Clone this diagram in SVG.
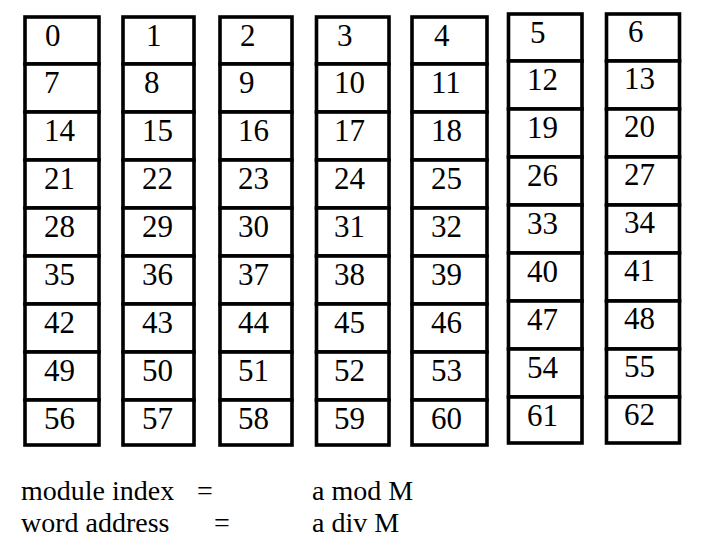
<svg xmlns="http://www.w3.org/2000/svg" width="702" height="552" viewBox="0 0 702 552">
<style>
.cell{fill:#fff;stroke:#000;stroke-width:3.6}
.n{font-size:31px;fill:#000}
.lbl{font-size:28px;fill:#000}
</style>
<rect width="702" height="552" fill="#fff"/>
<g font-family="'Liberation Serif', 'Times New Roman', Times, serif">
<g id="module0"><rect class="cell" x="25" y="17" width="74" height="47"/><rect class="cell" x="25" y="64" width="74" height="48"/><rect class="cell" x="25" y="112" width="74" height="48"/><rect class="cell" x="25" y="160" width="74" height="48"/><rect class="cell" x="25" y="208" width="74" height="48"/><rect class="cell" x="25" y="256" width="74" height="48"/><rect class="cell" x="25" y="304" width="74" height="48"/><rect class="cell" x="25" y="352" width="74" height="48"/><rect class="cell" x="25" y="400" width="74" height="45"/>
<text class="n" x="45" y="46">0</text><text class="n" x="44" y="93">7</text><text class="n" x="44" y="141">14</text><text class="n" x="44" y="189">21</text><text class="n" x="44" y="237">28</text><text class="n" x="44" y="285">35</text><text class="n" x="44" y="333">42</text><text class="n" x="44" y="381">49</text><text class="n" x="44" y="429">56</text></g>
<g id="module1"><rect class="cell" x="123" y="17" width="71" height="47"/><rect class="cell" x="123" y="64" width="71" height="48"/><rect class="cell" x="123" y="112" width="71" height="48"/><rect class="cell" x="123" y="160" width="71" height="48"/><rect class="cell" x="123" y="208" width="71" height="48"/><rect class="cell" x="123" y="256" width="71" height="48"/><rect class="cell" x="123" y="304" width="71" height="48"/><rect class="cell" x="123" y="352" width="71" height="48"/><rect class="cell" x="123" y="400" width="71" height="45"/>
<text class="n" x="146" y="46">1</text><text class="n" x="144" y="93">8</text><text class="n" x="142" y="141">15</text><text class="n" x="142" y="189">22</text><text class="n" x="142" y="237">29</text><text class="n" x="142" y="285">36</text><text class="n" x="142" y="333">43</text><text class="n" x="142" y="381">50</text><text class="n" x="142" y="429">57</text></g>
<g id="module2"><rect class="cell" x="220" y="17" width="72" height="47"/><rect class="cell" x="220" y="64" width="72" height="48"/><rect class="cell" x="220" y="112" width="72" height="48"/><rect class="cell" x="220" y="160" width="72" height="48"/><rect class="cell" x="220" y="208" width="72" height="48"/><rect class="cell" x="220" y="256" width="72" height="48"/><rect class="cell" x="220" y="304" width="72" height="48"/><rect class="cell" x="220" y="352" width="72" height="48"/><rect class="cell" x="220" y="400" width="72" height="45"/>
<text class="n" x="240" y="46">2</text><text class="n" x="239" y="93">9</text><text class="n" x="238" y="141">16</text><text class="n" x="238" y="189">23</text><text class="n" x="238" y="237">30</text><text class="n" x="238" y="285">37</text><text class="n" x="238" y="333">44</text><text class="n" x="238" y="381">51</text><text class="n" x="238" y="429">58</text></g>
<g id="module3"><rect class="cell" x="316.5" y="17" width="72.5" height="47"/><rect class="cell" x="316.5" y="64" width="72.5" height="48"/><rect class="cell" x="316.5" y="112" width="72.5" height="48"/><rect class="cell" x="316.5" y="160" width="72.5" height="48"/><rect class="cell" x="316.5" y="208" width="72.5" height="48"/><rect class="cell" x="316.5" y="256" width="72.5" height="48"/><rect class="cell" x="316.5" y="304" width="72.5" height="48"/><rect class="cell" x="316.5" y="352" width="72.5" height="48"/><rect class="cell" x="316.5" y="400" width="72.5" height="45"/>
<text class="n" x="337" y="46">3</text><text class="n" x="334" y="93">10</text><text class="n" x="334" y="141">17</text><text class="n" x="334" y="189">24</text><text class="n" x="334" y="237">31</text><text class="n" x="334" y="285">38</text><text class="n" x="334" y="333">45</text><text class="n" x="334" y="381">52</text><text class="n" x="334" y="429">59</text></g>
<g id="module4"><rect class="cell" x="412" y="17" width="75" height="47"/><rect class="cell" x="412" y="64" width="75" height="48"/><rect class="cell" x="412" y="112" width="75" height="48"/><rect class="cell" x="412" y="160" width="75" height="48"/><rect class="cell" x="412" y="208" width="75" height="48"/><rect class="cell" x="412" y="256" width="75" height="48"/><rect class="cell" x="412" y="304" width="75" height="48"/><rect class="cell" x="412" y="352" width="75" height="48"/><rect class="cell" x="412" y="400" width="75" height="45"/>
<text class="n" x="434" y="46">4</text><text class="n" x="431" y="93">11</text><text class="n" x="431" y="141">18</text><text class="n" x="431" y="189">25</text><text class="n" x="431" y="237">32</text><text class="n" x="431" y="285">39</text><text class="n" x="431" y="333">46</text><text class="n" x="431" y="381">53</text><text class="n" x="431" y="429">60</text></g>
<g id="module5"><rect class="cell" x="508.5" y="14" width="73.5" height="47"/><rect class="cell" x="508.5" y="61" width="73.5" height="48"/><rect class="cell" x="508.5" y="109" width="73.5" height="48"/><rect class="cell" x="508.5" y="157" width="73.5" height="48"/><rect class="cell" x="508.5" y="205" width="73.5" height="48"/><rect class="cell" x="508.5" y="253" width="73.5" height="48"/><rect class="cell" x="508.5" y="301" width="73.5" height="48"/><rect class="cell" x="508.5" y="349" width="73.5" height="48"/><rect class="cell" x="508.5" y="397" width="73.5" height="46"/>
<text class="n" x="530" y="43">5</text><text class="n" x="527" y="90">12</text><text class="n" x="527" y="138">19</text><text class="n" x="527" y="186">26</text><text class="n" x="527" y="234">33</text><text class="n" x="527" y="282">40</text><text class="n" x="527" y="330">47</text><text class="n" x="527" y="378">54</text><text class="n" x="527" y="426">61</text></g>
<g id="module6"><rect class="cell" x="606.5" y="14" width="73" height="47"/><rect class="cell" x="606.5" y="61" width="73" height="48"/><rect class="cell" x="606.5" y="109" width="73" height="48"/><rect class="cell" x="606.5" y="157" width="73" height="48"/><rect class="cell" x="606.5" y="205" width="73" height="48"/><rect class="cell" x="606.5" y="253" width="73" height="48"/><rect class="cell" x="606.5" y="301" width="73" height="48"/><rect class="cell" x="606.5" y="349" width="73" height="48"/><rect class="cell" x="606.5" y="397" width="73" height="46"/>
<text class="n" x="628" y="42">6</text><text class="n" x="624" y="89">13</text><text class="n" x="624" y="137">20</text><text class="n" x="624" y="185">27</text><text class="n" x="624" y="233">34</text><text class="n" x="624" y="281">41</text><text class="n" x="624" y="329">48</text><text class="n" x="624" y="377">55</text><text class="n" x="624" y="425">62</text></g>
<g id="formula">
<text class="lbl" y="500"><tspan x="21">module index</tspan><tspan x="197">=</tspan><tspan x="312">a mod M</tspan></text>
<text class="lbl" y="532"><tspan x="21">word address</tspan><tspan x="214">=</tspan><tspan x="312">a div M</tspan></text>
</g>
</g>
</svg>
